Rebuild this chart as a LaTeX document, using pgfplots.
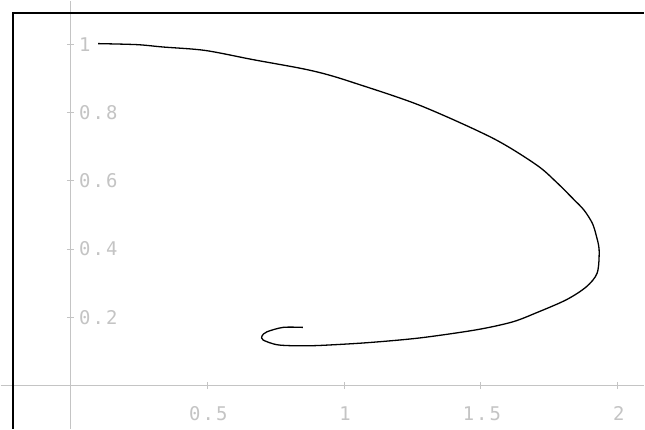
\documentclass[border=0pt]{standalone}
\usepackage{pgfplots}
\pgfplotsset{compat=1.18}
\usepackage{fontspec}
\setmonofont[LetterSpace=11]{DejaVu Sans Mono}
\definecolor{axgray}{HTML}{C4C4C4}
\begin{document}
\begin{tikzpicture}
\begin{axis}[
  width=645bp, height=429bp, scale only axis,
  xmin=-0.255, xmax=2.096, ymin=-0.127, ymax=1.129,
  axis lines=middle,
  axis line style={-, axgray, line width=1.4bp},
  axis background/.style={fill=white},
  xtick={0.5,1,1.5,2}, xticklabels={0.5,1,1.5,2},
  ytick={0.2,0.4,0.6,0.8,1}, yticklabels={0.2,0.4,0.6,0.8,1},
  major tick length=7bp,
  tick style={axgray, line width=1bp},
  tick align=center,
  ticklabel style={font=\fontsize{19}{19}\ttfamily, text=axgray, inner sep=0pt},
  xticklabel style={anchor=base, yshift=-31.5bp, xshift=1bp},
  yticklabel style={anchor=west, xshift=12bp, yshift=0bp},
  clip=false,
]
\addplot[black, line width=1.3bp, smooth, tension=0.5] coordinates {
(0.101,1.003) (0.243,1.000) (0.339,0.993) (0.492,0.983) (0.667,0.956)
(0.838,0.931) (0.93,0.914) (1.032,0.889) (1.276,0.822) (1.542,0.726)
(1.703,0.647) (1.775,0.597) (1.840,0.545) (1.877,0.514) (1.907,0.476)
(1.921,0.441) (1.932,0.397)
(1.925,0.330) (1.885,0.289) (1.812,0.251) (1.703,0.213) (1.615,0.186)
(1.484,0.163) (1.276,0.139) (1.083,0.125) (0.911,0.117) (0.828,0.116)
(0.755,0.119) (0.704,0.133) (0.700,0.145) (0.718,0.157) (0.777,0.170)
(0.849,0.170)
};
\draw[black, line width=2bp] (rel axis cs:0.0186,0) -- (rel axis cs:0.0186,0.972) -- (rel axis cs:1,0.972);
\end{axis}
\end{tikzpicture}
\end{document}
